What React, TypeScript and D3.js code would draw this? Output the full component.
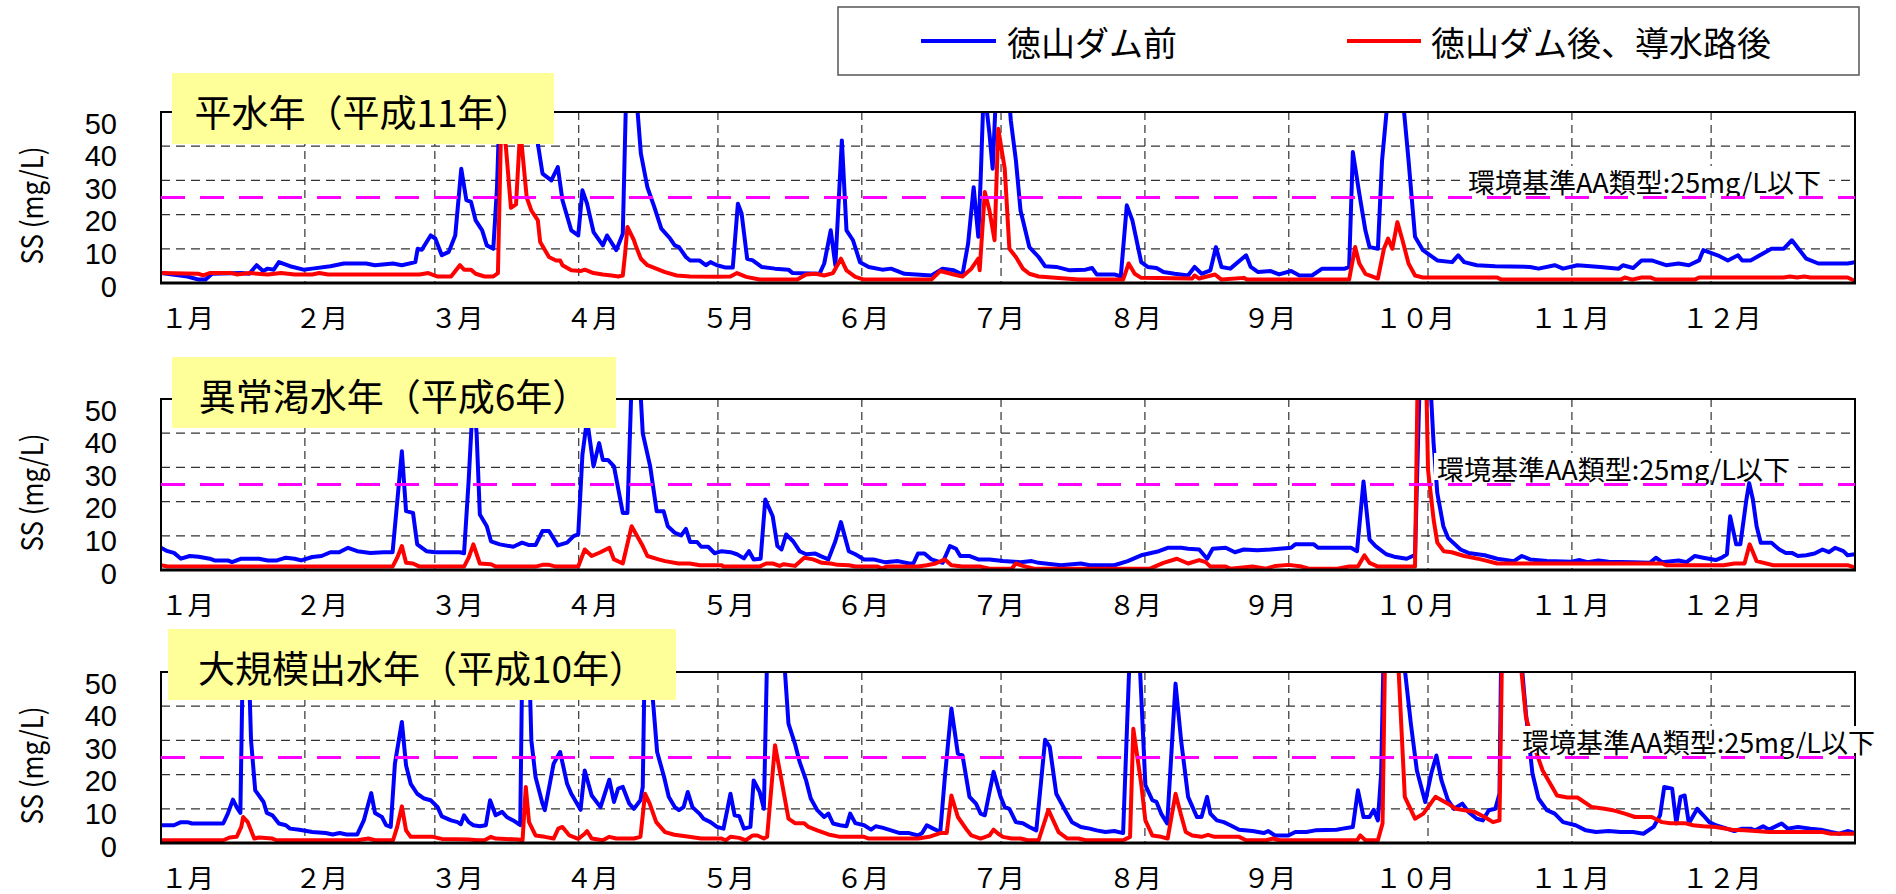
import { useMemo } from "react";
import * as d3 from "d3";

const W = 1896;
const H = 894;
const FONT = "'Noto Sans CJK JP', 'Noto Sans', sans-serif";
const NUM_FONT = "'Liberation Sans', Arial, sans-serif";

// month labels and where each month starts (day of year)
const MONTH_LABELS = ["１月", "２月", "３月", "４月", "５月", "６月", "７月", "８月", "９月", "１０月", "１１月", "１２月"];
const MONTH_START = [0, 31, 59, 90, 120, 151, 181, 212, 243, 273, 304, 334];
// label centres (day of year)
const MONTH_LABEL_DAY = [5.7, 34.6, 63.8, 92.9, 122.2, 151.2, 180.4, 209.9, 238.9, 270.2, 303.6, 336.3];
const Y_TICKS = [0, 10, 20, 30, 40, 50];
const GRID_Y = [10, 20, 30, 40];
const ENV_STANDARD = 25;

const SERIES_NAMES = ["徳山ダム前", "徳山ダム後、導水路後"];
const PANEL_TITLES = ["平水年（平成11年）", "異常渇水年（平成6年）", "大規模出水年（平成10年）"];
const ENV_LABEL = "環境基準AA類型:25mg/L以下";
const Y_TITLE = "SS (mg/L)";

// [day of year, SS mg/L] — values above 50 run off the top of the chart
const h11Before = [
  [0, 2.9], [5.7, 1.9], [8.1, 1.0], [9.6, 1.0], [11, 2.7], [17.3, 2.9], [19, 2.7], [20.6, 5.2], [22, 3.5], [23, 4.2], [24.3, 3.9],
  [25.4, 6.1], [27.8, 4.9], [30.7, 3.9], [32.6, 4.2], [36.5, 4.9], [39.4, 5.7], [44.2, 5.7], [46.1, 5.2], [50, 5.7], [51.9, 5.2],
  [54.8, 6.1], [55.3, 10], [56.2, 9.7], [58.1, 13.9], [59.1, 13], [60.5, 8.1], [62, 9.1], [63.4, 13.9], [64.7, 33.4], [65.8, 24.2],
  [66.8, 23.7], [67.8, 18.3], [69.2, 15.4], [70.2, 11], [71.6, 10], [72.4, 28], [73.2, 62], [76, 75], [79, 70], [80.7, 52],
  [81.2, 40.7], [82.2, 32], [84.1, 30], [85.5, 33.9], [86.5, 24.2], [88.4, 15.4], [89.9, 13.9], [90.8, 27.1], [91.8, 23.2],
  [93.2, 14.9], [95.2, 11], [96.1, 13.9], [98.1, 9.6], [99.5, 14.4], [100.3, 60], [102, 62], [103.4, 37.8], [104.8, 28],
  [106.3, 22.2], [107.8, 15.9], [109.7, 13], [110.7, 11], [111.6, 10.5], [113.1, 7.6], [114, 6.6], [116, 6.6], [117.4, 5.2],
  [118.4, 6.1], [119.8, 5.2], [121.7, 4.5], [123.2, 4.5], [124.3, 23.2], [125.1, 20.3], [126.3, 7.1], [127.5, 6.6], [129.4, 4.7],
  [132.3, 4.2], [135.2, 3.9], [136.1, 2.9], [141.9, 2.7], [142.9, 5.7], [144.3, 15.4], [145.3, 5.2], [146.7, 41.7], [147.7, 15.4],
  [149.1, 12.5], [150.6, 6.1], [152.5, 4.7], [155.4, 3.9], [157.3, 4.2], [160.2, 2.7], [166, 2.2], [168.4, 4.2], [170.8, 3.7],
  [172.7, 2.5], [173.9, 11.5], [175.1, 28], [176.1, 13.5], [176.6, 30], [177.3, 58], [178.5, 43.7], [179.2, 33.4], [180, 58],
  [182.3, 62], [183.1, 47.6], [184.2, 35.9], [185.2, 21.2], [187.1, 10.5], [189.1, 7.6], [190.5, 4.9], [192.9, 4.7], [195.8, 3.7],
  [199.2, 3.9], [200.6, 4.4], [201.6, 2.5], [205.4, 2.5], [206.8, 1.9], [208.1, 22.7], [209.3, 18.3], [211.2, 6.1], [212.6, 4.7],
  [214.5, 4.4], [216, 3.2], [218.4, 2.7], [221.3, 2.2], [222.7, 4.7], [224.2, 2.7], [226.1, 3.7], [227.3, 10.5], [228.5, 4.7],
  [230.4, 4.2], [233.8, 8.1], [234.8, 4.7], [236.4, 3.2], [239.1, 3.5], [240.9, 2.5], [243.5, 3.5], [245.3, 2.2], [248, 2.2],
  [250.2, 4.2], [255.1, 4.2], [256, 4.7], [256.8, 38.3], [258.2, 26.1], [259.5, 15.4], [260.4, 10.5], [262.2, 10], [263.1, 35.9],
  [264.4, 55], [266, 65], [267.5, 55], [268.8, 35.9], [270.2, 13.5], [271.9, 9.6], [275, 6.6], [278.2, 6.1], [279.5, 8.1],
  [280.8, 6.1], [283.5, 5.2], [287.5, 4.9], [295, 4.7], [296.8, 4.2], [300.3, 5.2], [302.1, 4.2], [305.2, 5.2], [310.1, 4.7],
  [314.1, 4.2], [315, 5.2], [317.2, 4.4], [319, 6.6], [321.2, 6.6], [324.3, 5.2], [327, 5.7], [329.2, 5.2], [331.4, 6.6],
  [332.3, 9.6], [335.4, 8.1], [337.6, 6.6], [339.8, 8.1], [340.7, 6.6], [342.5, 6.6], [347, 10], [349.6, 10], [351.4, 12.5],
  [354.5, 7.1], [357.1, 5.7], [363.4, 5.7], [365, 6.1],
];

const h11After = [
  [0, 2.9], [8, 2.7], [9.1, 2.2], [10.5, 2.9], [15.3, 2.9], [16.3, 2.5], [19.2, 2.9], [23, 2.5], [25.9, 2.9], [28.8, 2.5],
  [32.6, 2.5], [34.1, 2.9], [36, 2.5], [55.7, 2.5], [57.6, 2.9], [59.6, 1.9], [62.5, 1.9], [64.4, 5.2], [65.3, 3.9], [66.8, 3.9],
  [67.8, 2.7], [69.7, 1.9], [71.6, 1.9], [72.6, 2.9], [73.3, 47], [74.3, 40], [75.4, 22], [76.5, 23], [77.4, 45], [78.8, 25],
  [79.8, 21.2], [81.2, 18.3], [81.7, 12], [83.6, 7.6], [85.1, 6.6], [86, 6.6], [86.5, 5.2], [88.4, 3.7], [90.4, 3.5], [91.3, 3.9],
  [93.2, 2.9], [95.2, 2.5], [97.1, 2.2], [98.5, 1.9], [99.5, 2.2], [100, 8.6], [100.5, 16.4], [101.9, 12.5], [102.4, 10.5],
  [103.4, 7.1], [104.8, 5.2], [106.7, 4.2], [108.6, 3.2], [111.1, 2.2], [114, 1.9], [119.8, 1.8], [122.7, 1.9], [124.1, 2.9],
  [126.1, 1.8], [129, 1.0], [137.1, 1.0], [139, 2.5], [141, 2.7], [142.9, 2.2], [144.8, 2.9], [146.5, 7.1], [147.7, 3.7],
  [149.6, 1.8], [151.5, 1.0], [166, 1.0], [167.9, 3.5], [170.8, 2.5], [172.7, 1.9], [174.6, 4.2], [176.1, 7.1], [176.4, 3.7],
  [177.5, 26.6], [178.5, 21.2], [179.6, 12.5], [180.4, 45.1], [181.8, 33.4], [182.8, 10], [184.2, 7.6], [185.7, 4.2], [187.1, 2.7],
  [189.1, 1.9], [197.7, 1.0], [207.3, 1.0], [208.5, 5.7], [209.8, 2.7], [211.2, 1.5], [222.2, 1.3], [222.7, 2.2], [223.7, 1.3],
  [227.1, 2.5], [228.5, 1.0], [233.3, 1.5], [234, 1.0], [256, 1.0], [257.3, 10.5], [258.2, 5.7], [259.5, 2.7], [262.2, 1.3],
  [263.5, 10], [264.4, 13], [265.3, 10], [266.4, 17.8], [267.5, 12.5], [268.8, 5.7], [270.2, 2.2], [271.9, 1.6], [287.9, 1.6],
  [288.8, 1.0], [314.5, 1.0], [315.4, 1.6], [317, 1.0], [319, 1.6], [321, 1.6], [322.1, 1.0], [330.5, 1.0], [331.4, 1.6],
  [349.6, 1.6], [351, 1.9], [352.5, 1.6], [354.1, 1.9], [355.4, 1.6], [363.4, 1.6], [365, 0.6],
];

const h6Before = [
  [0, 6.5], [1.4, 5.5], [2.8, 5.0], [4.3, 3.3], [6.2, 4.1], [8.1, 3.9], [10.5, 3.3], [11.5, 2.8], [14.4, 2.8], [15.3, 2.3],
  [17.3, 3.3], [21.1, 3.3], [23, 2.8], [25, 2.8], [26.9, 3.6], [28.8, 3.3], [30.2, 2.8], [32.6, 3.8], [34.6, 4.1], [36.5, 5.2],
  [38.4, 5.2], [40.3, 6.5], [42.3, 5.5], [45.1, 5.0], [48, 5.2], [49.9, 5.2], [51.9, 34.7], [52.8, 17.2], [54.3, 16.7], [55.2, 7.5],
  [57.2, 5.5], [59.1, 5.2], [64.4, 5.2], [65.3, 4.9], [66.3, 26.4], [67.3, 52], [68, 40], [68.7, 16.2], [70.2, 12.8], [71.1, 8.4],
  [73, 7.5], [75.9, 6.8], [77.8, 8.0], [79.3, 7.3], [80.7, 7.3], [82.2, 11.4], [83.6, 11.4], [85.5, 7.2], [87.5, 8.0], [88.9, 9.9],
  [89.9, 10.4], [90.8, 33.7], [91.8, 44], [93.2, 30.3], [94.4, 37.1], [95.2, 32.2], [96.3, 32.2], [97.6, 30.3], [99.5, 16.7],
  [100.5, 16.7], [101.4, 55], [103, 60], [103.8, 40], [105.4, 30.3], [106.8, 17.2], [108.3, 17.2], [109.2, 12.8], [110.7, 10.9],
  [112.1, 10.1], [113.1, 12.0], [114, 8.2], [115.5, 8.2], [116.4, 6.8], [117.9, 6.8], [119.3, 4.9], [120.8, 5.5], [122.7, 5.2],
  [124.1, 4.6], [125.6, 3.4], [126.7, 5.5], [127.7, 3.1], [129.2, 3.3], [130.2, 20.6], [131.8, 15.7], [132.8, 7.0], [133.7, 6.0],
  [134.7, 10.4], [136.2, 8.4], [137.6, 5.5], [139, 4.6], [141, 4.8], [142.4, 3.9], [143.8, 3.1], [145.3, 8.4], [146.5, 14.0],
  [148.2, 5.5], [149.6, 4.6], [151.5, 3.1], [153.5, 3.1], [155.9, 2.3], [158.8, 2.6], [161.2, 1.9], [162.1, 1.9], [163.1, 4.8],
  [164.5, 4.8], [166, 3.1], [168.4, 2.1], [170, 7.0], [171.3, 6.2], [172.2, 4.1], [174.1, 4.1], [176.1, 3.1], [178.5, 3.1],
  [181.4, 2.6], [185.2, 2.3], [187.6, 2.6], [189.1, 2.1], [193.9, 1.4], [198.2, 1.9], [200.1, 1.4], [205.4, 1.4], [208.3, 2.6],
  [211.2, 4.3], [213.1, 4.9], [215, 5.5], [216.9, 6.5], [219.8, 6.5], [221.3, 6.2], [223.7, 6.0], [225.4, 3.3], [226.6, 6.2],
  [229.4, 6.5], [231.4, 5.2], [233.3, 6.0], [236.2, 5.8], [239.1, 6.0], [243.5, 6.5], [244.4, 7.5], [248.4, 7.5], [249.3, 6.5],
  [252.4, 6.5], [256.4, 6.5], [257.7, 5.5], [259.1, 25.9], [260.4, 8.9], [261.7, 7.0], [264, 4.6], [265.7, 3.9], [268.4, 3.3],
  [269.7, 4.1], [270.2, 4.1], [271.2, 55], [273.3, 60], [274.2, 37], [275, 22.5], [276.3, 12.8], [277.3, 9.4], [280, 6.0],
  [281.7, 5.0], [285.2, 4.3], [287.9, 3.3], [291.5, 2.6], [293.2, 4.1], [295, 3.1], [298.6, 2.6], [303.9, 2.4], [305.7, 2.9],
  [307.4, 2.3], [309.7, 2.8], [311.9, 2.4], [317.2, 2.3], [320.8, 2.1], [322.1, 3.6], [323.4, 2.3], [327, 2.8], [328.7, 2.3],
  [330.5, 4.1], [332.3, 3.6], [335, 2.9], [336.3, 3.6], [337.4, 4.6], [338.1, 15.7], [339.4, 7.5], [340.3, 7.5], [341.6, 20.6],
  [342.2, 25.4], [343, 20.6], [343.8, 12.8], [344.7, 8.0], [347, 8.0], [347.8, 7.0], [348.7, 6.0], [350.1, 5.0], [351.4, 5.0],
  [352.7, 4.1], [354.5, 4.3], [356.3, 4.8], [358, 6.0], [359.4, 5.2], [360.7, 6.5], [362.5, 5.5], [363.4, 4.3], [365, 4.6],
];

const h6After = [
  [0, 1.4], [1.4, 1.0], [49.9, 1.0], [50.9, 3.6], [51.9, 7.0], [52.8, 2.1], [54.3, 1.9], [55.7, 1.0], [65.3, 1.0], [66.3, 3.6],
  [67.3, 7.5], [68.7, 1.9], [71.1, 1.7], [72.1, 1.0], [80.7, 1.0], [82.2, 1.5], [83.6, 1.5], [85.1, 1.0], [89.9, 1.0], [91.3, 6.0],
  [92.8, 4.1], [94.7, 5.2], [96.6, 6.5], [97.6, 3.1], [99.5, 1.9], [101.4, 12.8], [103.8, 7.0], [104.8, 4.1], [107.2, 3.1],
  [108.6, 2.6], [111.5, 1.9], [113.9, 1.9], [116.1, 1.4], [120.8, 1.4], [121.2, 1.0], [129, 1.0], [130.4, 1.9], [131.8, 1.9],
  [133.3, 1.2], [134.2, 1.7], [136.6, 1.2], [138.6, 3.6], [140.5, 3.1], [142.4, 2.1], [144.3, 1.9], [145.8, 1.5], [148.2, 1.4],
  [149.6, 1.0], [154.4, 1.0], [155.4, 0.4], [156.3, 1.0], [163.1, 1.0], [165, 1.4], [166.9, 1.9], [168.9, 3.1], [170.3, 1.4],
  [172.7, 1.0], [176.6, 1.0], [178.5, 0.4], [183.3, 0.4], [184.2, 1.9], [185.7, 1.2], [188.1, 0.4], [213.1, 0.4], [216, 2.1],
  [218.9, 3.3], [221.3, 1.9], [223.7, 2.9], [225.1, 2.3], [226.1, 1.0], [229.4, 1.0], [230.4, 0.4], [235.2, 1.0], [238.1, 0.4],
  [240.1, 1.2], [243, 1.5], [245.8, 1.0], [247.3, 0.4], [253.5, 0.4], [256, 1.0], [257.9, 1.0], [259.3, 4.3], [260.4, 2.1],
  [262.2, 1.0], [270.2, 1.0], [270.9, 70], [272.4, 70], [273, 29.3], [274.2, 14.8], [275, 8], [276.4, 5.5], [278.1, 5.2],
  [280.8, 4.1], [284.4, 3.1], [287.9, 1.9], [323.4, 1.9], [324.3, 1.4], [336.7, 1.4], [339, 1.9], [341.2, 1.9], [342.3, 7.5],
  [343.8, 2.6], [347.4, 1.4], [363.4, 1.4], [365, 0.7],
];

const h10Before = [
  [0, 5.2], [2.8, 5.2], [4.3, 6.1], [5.7, 6.1], [6.7, 5.7], [13.4, 5.7], [14.4, 8.6], [15.5, 12.7], [16.3, 10.5], [17.1, 8.8],
  [17.7, 60], [18.7, 62], [19.4, 30], [20.3, 15.4], [22.1, 12], [22.8, 8.8], [24, 8.1], [25.4, 5.7], [26.9, 5.2], [27.8, 4.2],
  [29.8, 3.9], [32.6, 3.2], [35.5, 2.9], [37, 2.5], [38.5, 2.9], [40, 2.5], [42.3, 2.5], [43.7, 6.6], [45.3, 14.6], [46.1, 8.8],
  [47.6, 7.6], [48.5, 5.2], [49.5, 4.7], [50.4, 23.2], [51.9, 35.4], [52.8, 22.7], [53.8, 17.3], [55.2, 14.4], [56.7, 13],
  [58.1, 12.5], [59.6, 10.5], [60.5, 7.8], [62.5, 6.6], [63.9, 6.1], [64.6, 5.5], [65.3, 8.1], [66.3, 6.1], [67.3, 5.2], [68.7, 4.9],
  [70, 5.2], [70.9, 12.5], [72.1, 8.1], [73.5, 9.1], [74.5, 7.6], [75.9, 6.6], [77.4, 5.2], [77.9, 60], [79.3, 55], [79.8, 30],
  [80.7, 19.3], [82.2, 11.5], [82.7, 9.6], [84.6, 23.2], [86, 26.6], [87.5, 17.3], [88.4, 14.4], [90.4, 9.7], [91.3, 21.2],
  [92.8, 13.9], [94.7, 10.5], [96.6, 18.5], [97.6, 12], [98.5, 15.9], [99.5, 16.4], [100.9, 11.5], [101.9, 10], [103.3, 12.5],
  [103.8, 16.4], [104.3, 60], [105.2, 62], [105.8, 45], [106.9, 26.6], [108.4, 19.3], [109.4, 13.5], [110.7, 10.5], [111.6, 9.6],
  [112.6, 10.5], [113.5, 14.9], [114.5, 10.5], [116, 8.6], [116.9, 7.1], [118.4, 6.1], [119.8, 4.7], [121.2, 4.2], [122.7, 14.4],
  [123.6, 8.1], [124.6, 7.8], [125.6, 4.2], [127, 4.7], [127.7, 18.3], [129, 14.9], [129.9, 10], [130.6, 55], [132, 65],
  [134.2, 55], [135.2, 34.9], [136.6, 29], [137.6, 23.7], [139, 18.3], [140, 13], [141.4, 9.6], [142.9, 7.6], [143.8, 8.6],
  [144.8, 5.7], [146.3, 5.2], [147.7, 4.9], [148.5, 8.6], [149.6, 5.8], [151.5, 5.2], [153, 3.9], [154, 4.9], [155.4, 4.5],
  [157.3, 3.7], [159.2, 2.9], [161.2, 2.9], [163.1, 2.2], [164, 2.9], [165, 5.2], [166.4, 4.2], [167.9, 3.2], [168.9, 19.3],
  [170.3, 39.3], [171.7, 26.1], [172.7, 25.6], [174.2, 13.5], [175.6, 11.5], [176.6, 8.6], [177.5, 8.1], [179.4, 20.8],
  [180.9, 13.5], [181.8, 10.5], [182.8, 10], [184.2, 6.1], [185.7, 5.8], [187.1, 4.7], [188.6, 3.7], [190.5, 30.2], [191.5, 28.1],
  [192.9, 14.4], [194.8, 9.6], [196.3, 6.1], [198.2, 4.7], [200.1, 4.2], [201.6, 3.7], [203.5, 3.2], [205.4, 3.5], [207.3, 2.9],
  [208.8, 58], [210.7, 58], [212.1, 16.9], [213.6, 12.5], [214.5, 12], [215.5, 8.6], [216.8, 5.7], [218.6, 46.6], [219.8, 30],
  [221.3, 13.5], [223.2, 7.6], [224.2, 7.6], [225.4, 13.5], [226.1, 8.6], [227.5, 6.6], [229, 6.1], [230.4, 5.2], [232.3, 3.9],
  [235.2, 3.5], [237.6, 2.9], [238.6, 3.5], [240, 2.2], [242.9, 2.2], [244.4, 3.2], [246.8, 3.2], [248.7, 3.7], [253.3, 3.9],
  [254.6, 4.2], [256.8, 4.7], [257.9, 15.4], [259.1, 7.6], [260.4, 7.6], [261.3, 9.7], [262.2, 6.6], [262.9, 20.3], [263.5, 60],
  [265.5, 70], [267.9, 52], [269.3, 34.9], [270.6, 21.2], [272.4, 12], [273.7, 20.3], [274.8, 25.6], [275.9, 18.3], [277.3, 12.5],
  [278.6, 10], [280.4, 11.5], [281.7, 9.1], [283.5, 7.1], [284.8, 6.6], [286.1, 9.6], [287.5, 10], [288.4, 14.4], [288.8, 60],
  [291, 70], [293.2, 52], [294.1, 37.8], [295.5, 20.3], [296.8, 13], [298.6, 9.6], [300.3, 8.6], [302.1, 6.1], [304.8, 5.2],
  [307, 3.7], [309.2, 3.2], [311.9, 3.5], [314.5, 3.2], [317.2, 3.2], [319.4, 2.7], [321.6, 4.7], [323, 8.1], [323.9, 16.4],
  [325.6, 15.9], [326.5, 5.7], [327.4, 13.5], [328.3, 13.9], [329.2, 5.7], [331, 10], [332.3, 8.1], [333.6, 6.1], [335, 5.2],
  [336.7, 4.5], [339, 3.5], [340.7, 4.2], [342.5, 4.2], [343.5, 3.7], [345.2, 4.9], [346.5, 3.9], [349.2, 5.7], [350.5, 4.2],
  [352.7, 4.7], [355.4, 4.2], [357.6, 3.9], [359.8, 3.2], [361.6, 2.7], [363.4, 3.5], [365, 2.9],
];

const h10After = [
  [0, 0.8], [13.4, 0.8], [14.8, 1.6], [16.3, 1.8], [17.3, 4.7], [17.7, 7.6], [18.7, 6.1], [20.1, 1.3], [21.1, 1.6], [24, 1.3],
  [24.9, 0.8], [42.3, 0.8], [44.7, 1.3], [46.1, 0.8], [50, 0.8], [50.9, 4.7], [51.9, 10.7], [52.8, 3.7], [53.8, 1.8], [58.6, 1.8],
  [60.5, 1.2], [66.3, 1.0], [68.2, 0.8], [69.7, 0.8], [71.1, 1.8], [72.1, 1.3], [76.9, 1.0], [77.9, 0.8], [78.6, 16.4], [79.3, 6.1],
  [80.7, 2.2], [82.7, 1.8], [84.6, 1.3], [85.6, 4.2], [86.5, 4.7], [88, 2.2], [89.9, 1.2], [91.3, 2.7], [91.8, 3.5], [92.8, 1.3],
  [95.2, 0.8], [96.6, 1.8], [98.1, 1.3], [101.9, 1.3], [103.3, 1.8], [104.3, 14.4], [105.3, 11.5], [106.7, 6.1], [108.6, 3.2],
  [110.6, 2.4], [113.4, 1.9], [116.4, 1.3], [120.8, 1.3], [121.7, 0.8], [122.7, 1.8], [124.6, 1.5], [126, 0.8], [127.5, 2.2],
  [128.5, 2.2], [129.9, 1.3], [130.6, 1.8], [132.3, 28.6], [133.7, 18.3], [135.2, 7.1], [136.6, 5.8], [138.6, 5.8], [139.5, 4.7],
  [141.4, 3.7], [143.8, 2.5], [146.3, 1.8], [151.5, 1.8], [152.5, 1.3], [163.1, 1.3], [165.5, 1.8], [167.9, 2.9], [169.3, 2.9],
  [170.3, 13.9], [171.7, 7.6], [173.7, 3.7], [174.6, 2.2], [176.6, 1.3], [178.5, 2.2], [179.4, 3.9], [180.4, 2.7], [181.4, 1.8],
  [183.3, 1.3], [185.2, 1.3], [186.7, 0.8], [189.1, 0.8], [191.2, 9.7], [193.4, 3.2], [195.3, 1.3], [197.7, 1.3], [199.2, 0.8],
  [207.3, 0.8], [208.8, 1.8], [209.5, 33.4], [211.2, 17.3], [212.1, 6.6], [213.6, 2.2], [215.5, 1.8], [216.9, 1.3], [218.6, 14.4],
  [219.8, 8.1], [220.8, 3.2], [222.2, 2.2], [224.2, 1.8], [225.6, 2.4], [227, 1.8], [232.3, 1.8], [233.8, 0.8], [238.1, 0.8],
  [239.6, 1.3], [241, 0.8], [257.7, 0.8], [258.4, 2.2], [259.5, 0.8], [262.2, 0.8], [263.2, 5.7], [263.8, 60], [265.2, 75],
  [266.5, 55], [268, 13.5], [270.2, 7.1], [272, 8.6], [274.6, 13.5], [277.3, 11.5], [279, 10], [280.8, 9.6], [283, 9.1],
  [285.2, 7.6], [287, 6.1], [288.4, 6.6], [289, 60], [291, 75], [293, 52], [294.1, 36.8], [295.9, 28.1], [297.7, 21.2],
  [300.8, 13.9], [303, 13.3], [305.2, 13.3], [308.3, 10.5], [311, 10], [312.8, 9.6], [315.4, 8.6], [317.6, 7.6], [321.2, 7.6],
  [323.4, 6.1], [325.2, 5.8], [328.3, 5.8], [330.1, 5.2], [332.3, 4.9], [335, 4.7], [338.5, 3.9], [341.2, 3.7], [346.5, 3.2],
  [358, 3.2], [359.8, 2.7], [365, 2.7],
];

// layout
const PLOT_LEFT = 161;
const PLOT_RIGHT = 1855;
const PLOT_H = 171;
const PANEL_TOPS = [112, 399, 672];
const TITLE_BOXES = [
  { x: 172, y: 73, w: 382, h: 71 },
  { x: 172, y: 357, w: 444, h: 71 },
  { x: 168, y: 629, w: 508, h: 71 },
];
const ENV_LABEL_POS = [
  { x: 1468, y: 181 },
  { x: 1437, y: 468 },
  { x: 1522, y: 741 },
];

const BLUE = "#0000ff";
const RED = "#ff0000";
const MAGENTA = "#ff00ff";

const PANEL_SERIES = [
  [h11Before, h11After],
  [h6Before, h6After],
  [h10Before, h10After],
];

function Panel({ index }: { index: number }) {
  const top = PANEL_TOPS[index];
  const bottom = top + PLOT_H;
  const [before, after] = PANEL_SERIES[index];
  const box = TITLE_BOXES[index];
  const env = ENV_LABEL_POS[index];

  const x = d3.scaleLinear().domain([0, 365]).range([PLOT_LEFT, PLOT_RIGHT]);
  const y = d3.scaleLinear().domain([0, 50]).range([bottom, top]);
  // tick labels sit on a slightly tighter spacing than the gridlines
  const yLabel = d3.scaleLinear().domain([0, 50]).range([bottom + 3.5, top + 11.5]);

  const line = d3
    .line<number[]>()
    .x((d) => x(d[0]))
    .y((d) => y(d[1]));

  const clipId = `clip-${index}`;

  return (
    <g>
      <defs>
        <clipPath id={clipId}>
          <rect x={PLOT_LEFT} y={top} width={PLOT_RIGHT - PLOT_LEFT} height={PLOT_H + 3} />
        </clipPath>
      </defs>

      <rect x={PLOT_LEFT} y={top} width={PLOT_RIGHT - PLOT_LEFT} height={PLOT_H} fill="#fff" />

      {/* gridlines */}
      {GRID_Y.map((v) => (
        <line key={v} x1={PLOT_LEFT} x2={PLOT_RIGHT} y1={y(v)} y2={y(v)} stroke="#333" strokeWidth={1.2} strokeDasharray="9,6" />
      ))}
      {MONTH_START.slice(1).map((d) => (
        <line key={d} x1={x(d)} x2={x(d)} y1={top} y2={bottom} stroke="#333" strokeWidth={1.2} strokeDasharray="8,5" />
      ))}

      {/* series */}
      <g clipPath={`url(#${clipId})`}>
        <path d={line(before) || ""} fill="none" stroke={BLUE} strokeWidth={4} strokeLinejoin="round" />
        <path d={line(after) || ""} fill="none" stroke={RED} strokeWidth={4} strokeLinejoin="round" />
      </g>

      {/* frame */}
      <rect x={PLOT_LEFT} y={top} width={PLOT_RIGHT - PLOT_LEFT} height={PLOT_H} fill="none" stroke="#000" strokeWidth={2} />
      <line x1={PLOT_LEFT - 1} x2={PLOT_RIGHT + 1} y1={bottom} y2={bottom} stroke="#000" strokeWidth={3} />

      {/* environmental standard label */}
      <rect x={env.x - 3} y={env.y - 15} width={364} height={27} fill="#fff" />
      <text x={env.x} y={env.y} dominantBaseline="central" fontSize={27} fontFamily={FONT} fill="#000">
        {ENV_LABEL}
      </text>

      {/* 25 mg/L line */}
      <line
        x1={x(0)}
        x2={x(365)}
        y1={y(ENV_STANDARD)}
        y2={y(ENV_STANDARD)}
        stroke={MAGENTA}
        strokeWidth={3}
        strokeDasharray="24,15"
      />

      {/* y tick labels */}
      {Y_TICKS.map((v) => (
        <text key={v} x={117} y={yLabel(v)} textAnchor="end" dominantBaseline="central" fontSize={29} fontFamily={NUM_FONT}>
          {v}
        </text>
      ))}
      <text
        transform={`translate(30,${(top + bottom) / 2 + 8}) rotate(-90)`}
        textAnchor="middle"
        dominantBaseline="central"
        fontSize={30}
        textLength={118}
        lengthAdjust="spacingAndGlyphs"
        fontFamily={FONT}
      >
        {Y_TITLE}
      </text>

      {/* month labels */}
      {MONTH_LABELS.map((m, i) => (
        <text
          key={m}
          x={x(MONTH_LABEL_DAY[i])}
          y={bottom + 33}
          textAnchor="middle"
          dominantBaseline="central"
          fontSize={26.5}
          fontFamily={FONT}
        >
          {m}
        </text>
      ))}

      {/* panel title */}
      <rect x={box.x} y={box.y} width={box.w} height={box.h} fill="#ffff99" />
      <text
        x={box.x + box.w / 2}
        y={box.y + box.h / 2 + 2}
        textAnchor="middle"
        dominantBaseline="central"
        fontSize={37}
        fontFamily={FONT}
      >
        {PANEL_TITLES[index]}
      </text>
    </g>
  );
}

export default function App() {
  const panels = useMemo(() => [0, 1, 2], []);
  return (
    <svg
      width={W}
      height={H}
      viewBox={`0 0 ${W} ${H}`}
      style={{ position: "absolute", left: 0, top: 0, display: "block", background: "#fff" }}
    >
      <rect width={W} height={H} fill="#fff" />

      {/* legend */}
      <rect x={838} y={7} width={1021} height={68} fill="#fff" stroke="#555" strokeWidth={1.5} />
      <line x1={921} x2={996} y1={41} y2={41} stroke={BLUE} strokeWidth={4} />
      <text x={1007} y={41} dominantBaseline="central" fontSize={34} fontFamily={FONT}>
        {SERIES_NAMES[0]}
      </text>
      <line x1={1347} x2={1421} y1={41} y2={41} stroke={RED} strokeWidth={4} />
      <text x={1431} y={41} dominantBaseline="central" fontSize={34} fontFamily={FONT}>
        {SERIES_NAMES[1]}
      </text>

      {panels.map((i) => (
        <Panel key={i} index={i} />
      ))}
    </svg>
  );
}
